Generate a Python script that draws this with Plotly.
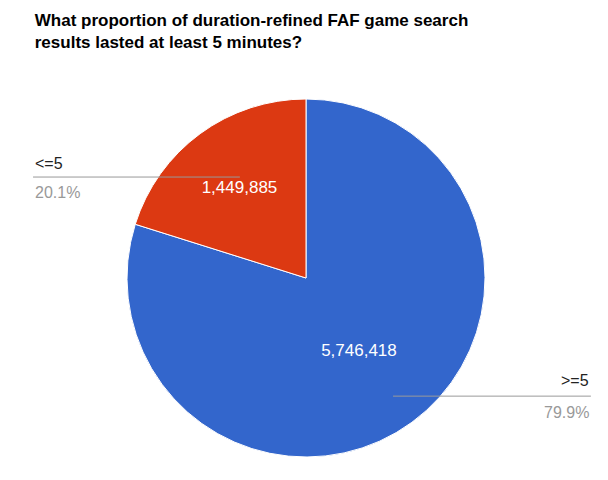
import plotly.graph_objs as go

labels = ['>=5', '<=5']
values = [5746418, 1449885]
colors = ['#3366cc', '#dc3912']
percents = ['79.9%', '20.1%']

fig = go.Figure(go.Pie(
    labels=labels, values=values, sort=False, direction='clockwise', rotation=0,
    marker=dict(colors=colors, line=dict(color='white', width=1)),
    texttemplate='%{value:,}', textposition='inside', insidetextorientation='horizontal',
    textfont=dict(color='white', size=17, family='Liberation Sans, Arial'),
    hole=0, showlegend=False,
))

ann = []
# left label (<=5)
ann.append(dict(x=0.042, y=0.821, text=labels[1], xanchor='left', yanchor='middle', showarrow=False,
                font=dict(size=16, color='#222')))
ann.append(dict(x=0.042, y=0.740, text=percents[1], xanchor='left', yanchor='middle', showarrow=False,
                font=dict(size=16, color='#999')))
# right label (>=5)
ann.append(dict(x=0.978, y=0.215, text=labels[0], xanchor='right', yanchor='middle', showarrow=False,
                font=dict(size=16, color='#222')))
ann.append(dict(x=0.978, y=0.123, text=percents[0], xanchor='right', yanchor='middle', showarrow=False,
                font=dict(size=16, color='#999')))

fig.update_layout(
    width=608, height=480,
    margin=dict(l=0, r=12, t=91, b=31),
    paper_bgcolor='white',
    font=dict(family='Liberation Sans, Arial'),
    title=dict(text='<b>What proportion of duration-refined FAF game search<br>results lasted at least 5 minutes?</b>',
               x=0.044, xanchor='left', y=0.962, yanchor='top',
               font=dict(size=17, color='#000')),
    annotations=ann,
    shapes=[
        dict(type='line', xref='paper', yref='paper', x0=0.042, x1=0.389, y0=0.782, y1=0.782,
             line=dict(color='#999', width=1)),
        dict(type='line', xref='paper', yref='paper', x0=0.646, x1=0.978, y0=0.170, y1=0.170,
             line=dict(color='#999', width=1)),
    ],
)

fig.write_html("out.html")
